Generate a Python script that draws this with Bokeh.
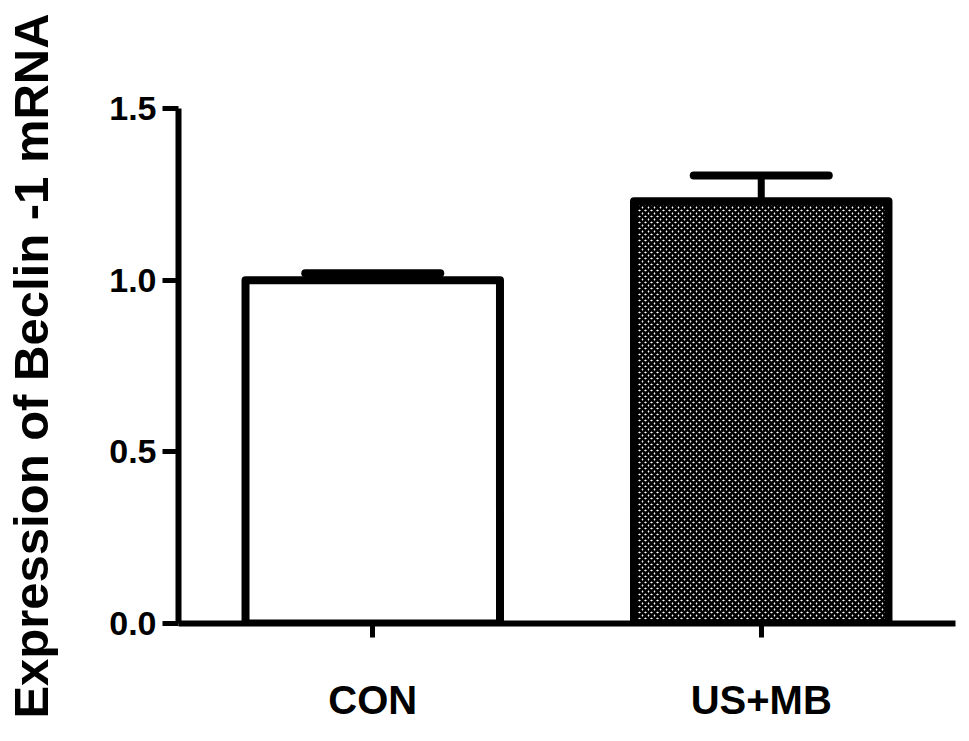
from bokeh.plotting import figure
from bokeh.models import FactorRange, Range1d, FixedTicker, Whisker, TeeHead, ColumnDataSource, NumeralTickFormatter
from bokeh.embed import file_html
from bokeh.resources import INLINE

categories = ["CON", "US+MB"]
means = [1.0, 1.23]
sem = [0.02, 0.075]
y_ticks = [0.0, 0.5, 1.0, 1.5]
y_label = "Expression of Beclin -1 mRNA"

FONT = "Liberation Sans"

p = figure(x_range=FactorRange(factors=categories), y_range=Range1d(0, 1.5),
           width=961, height=733, output_backend="svg", toolbar_location=None,
           min_border_left=178, min_border_right=6, min_border_top=108, min_border_bottom=110)
p.outline_line_color = None
p.xgrid.grid_line_color = None
p.ygrid.grid_line_color = None
p.background_fill_color = "white"
p.border_fill_color = "white"

# bars
p.vbar(x=[categories[0]], top=[means[0]], bottom=0, width=0.655,
       fill_color="white", line_color="black", line_width=8, line_join="round")
p.vbar(x=[categories[1]], top=[means[1]], bottom=0, width=0.655,
       fill_color="white", line_color="black", line_width=8, line_join="round",
       hatch_pattern="diagonal_cross", hatch_color="black", hatch_scale=6, hatch_weight=2.7)

# error bars
src = ColumnDataSource(dict(x=categories, lower=means,
                            upper=[m + s for m, s in zip(means, sem)]))
w = Whisker(source=src, base="x", lower="lower", upper="upper", dimension="height",
            line_color="black", line_width=7, lower_head=None,
            upper_head=TeeHead(size=135, line_width=8, line_color="black", line_cap="round"))
p.add_layout(w)

# axes
for ax in (p.xaxis[0], p.yaxis[0]):
    ax.axis_line_width = 6
    ax.axis_line_color = "black"
    ax.major_tick_line_width = 5
    ax.major_tick_line_color = "black"
    ax.major_tick_in = 0
    ax.minor_tick_line_color = None
    ax.major_label_text_font = FONT
    ax.major_label_text_font_style = "bold"
    ax.major_label_text_color = "black"

p.xaxis.major_tick_out = 14
p.xaxis.major_label_text_font_size = "40px"
p.xaxis.major_label_standoff = 40

p.yaxis.ticker = FixedTicker(ticks=y_ticks)
p.yaxis.formatter = NumeralTickFormatter(format="0.0")
p.yaxis.major_tick_out = 16
p.yaxis.major_label_text_font_size = "34px"
p.yaxis.major_label_standoff = 6
p.yaxis.axis_label = y_label
p.yaxis.axis_label_text_font = FONT
p.yaxis.axis_label_text_font_style = "bold"
p.yaxis.axis_label_text_font_size = "49px"
p.yaxis.axis_label_text_color = "black"
p.yaxis.axis_label_standoff = 48

open("out.html", "w").write(file_html(p, INLINE))
